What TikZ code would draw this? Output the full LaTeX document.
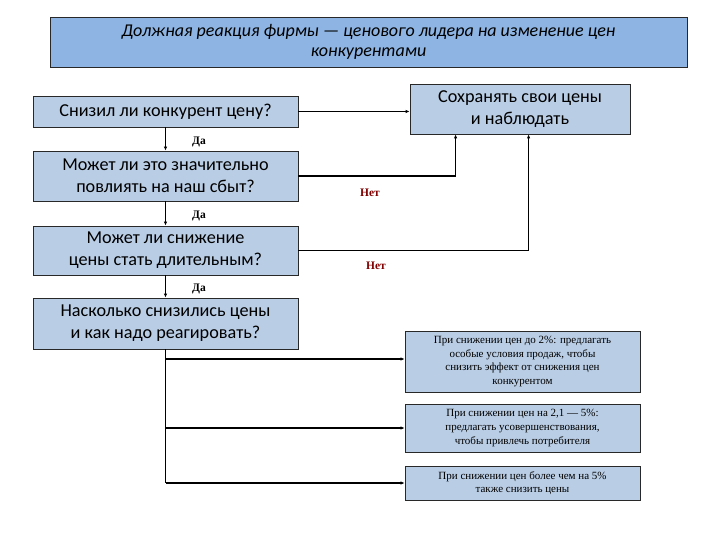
\documentclass[tikz,border=0pt]{standalone}
\usepackage{fontspec}
\setmainfont{Liberation Serif}
\newfontfamily\boxfont{Carlito}
\usetikzlibrary{arrows.meta}
\definecolor{titlefill}{RGB}{141,180,226}
\definecolor{boxfill}{RGB}{185,205,229}
\definecolor{boxline}{RGB}{40,40,40}
\definecolor{netred}{RGB}{128,0,0}
\tikzset{
  titlebox/.style={draw=boxline, line width=0.9pt, fill=titlefill, inner sep=0pt, align=center,
    font=\boxfont\itshape\fontsize{18}{20}\selectfont},
  mainbox/.style={draw=boxline, line width=0.8pt, fill=boxfill, inner sep=0pt, align=center,
    minimum width=265pt, font=\boxfont\fontsize{18.2}{22}\selectfont},
  smallbox/.style={draw=boxline, line width=0.8pt, fill=boxfill, inner sep=0pt, align=center,
    minimum width=235pt, font=\fontsize{11}{13.7}\selectfont},
  conn/.style={line width=1.2pt, black},
  arr/.style={conn, -{Latex[length=4pt,width=3.5pt]}},
  yes/.style={font=\bfseries\fontsize{11.5}{13}\selectfont},
  no/.style={font=\bfseries\fontsize{11.5}{13}\selectfont, text=netred}
}
\begin{document}
\begin{tikzpicture}[x=1pt,y=-1pt]
\useasboundingbox (0,0) rectangle (720,540);
\node[titlebox, minimum width=637pt, minimum height=50pt] (title) at (368.5,42)
  {Должная реакция фирмы — ценового лидера на изменение цен\\конкурентами};
\node[mainbox, minimum height=31pt] (b1) at (165.5,111.5) {Снизил ли конкурент цену?};
\node[mainbox, minimum width=220pt, minimum height=50pt] (save) at (520,109) {Сохранять свои цены\\и наблюдать};
\node[mainbox, minimum height=50pt] (b2) at (165.5,176) {Может ли это значительно\\повлиять на наш сбыт?};
\node[mainbox, minimum height=49pt] (b3) at (165.5,250.5) {Может ли снижение\\цены стать длительным?};
\node[mainbox, minimum height=51pt] (b4) at (165.5,323.5) {Насколько снизились цены\\и как надо реагировать?};
\node[smallbox, minimum height=61pt] (b5) at (522.5,361.5) {При снижении цен до 2\%: предлагать\\особые условия продаж, чтобы\\снизить эффект от снижения цен\\конкурентом};
\node[smallbox, minimum height=48pt] (b6) at (522.5,428) {При снижении цен на 2,1 — 5\%:\\предлагать усовершенствования,\\чтобы привлечь потребителя};
\node[smallbox, minimum height=34pt] (b7) at (522.5,483) {При снижении цен более чем на 5\%\\также снизить цены};

\draw[arr] (b1.east) -- (b1.east -| save.west);
\draw[arr] (b1.south) -- (b2.north);
\draw[arr] (b2.south) -- (b3.north);
\draw[arr] (b3.south) -- (b4.north);
\draw[arr] (b2.east) -| ([xshift=46pt]save.south west);
\draw[arr] (b3.east) -| ([xshift=119pt]save.south west);
\draw[conn] (b4.south) -- (b4.south |- b7.west);
\draw[arr] ([yshift=2.5pt]b4.south |- b5.west) -- ([yshift=2.5pt]b5.west);
\draw[arr] (b4.south |- b6.west) -- (b6.west);
\draw[arr] (b4.south |- b7.west) -- (b7.west);

\node[yes] (y1) at (199,142) {Да};
\node[yes] (y2) at (199,216) {Да};
\node[yes] (y3) at (199,289) {Да};
\node[no] (n1) at (370,193) {Нет};
\node[no] (n2) at (376,266) {Нет};
\end{tikzpicture}
\end{document}
